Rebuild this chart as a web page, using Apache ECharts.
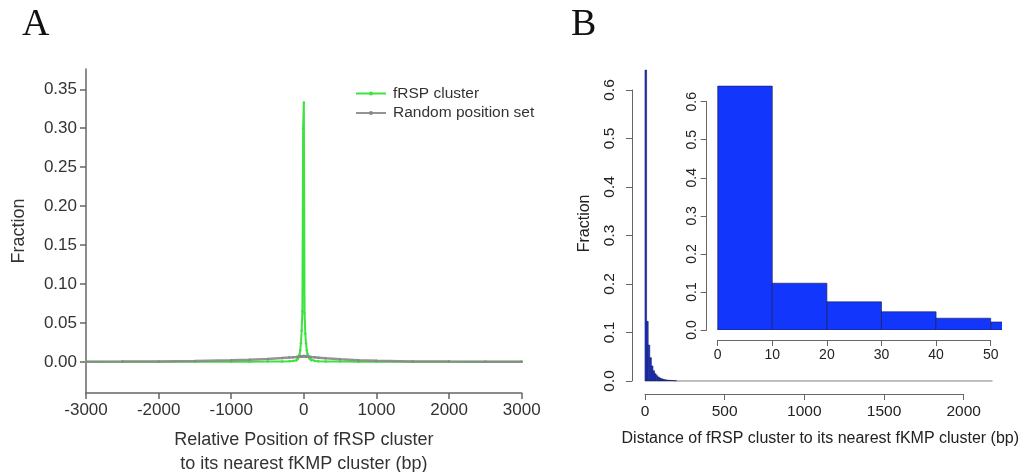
<!DOCTYPE html>
<html>
<head>
<meta charset="utf-8">
<title>fRSP / fKMP distance</title>
<script src="https://cdn.jsdelivr.net/npm/echarts@6/dist/echarts.min.js"></script>
<style>
  html, body { margin: 0; background: #fff; }
  #main { width: 1026px; height: 472px; }
</style>
</head>
<body>
<div id="main"></div>
<script>
// ---- panel A : relative position of fRSP cluster (bp) ----
var posA = [-3000, -2500, -2000, -1500, -1000, -750, -500, -300, -200, -150, -100, -80, -60, -50, -40, -30, -20, -10,
            0, 10, 20, 30, 40, 50, 60, 80, 100, 150, 200, 300, 500, 750, 1000, 1500, 2000, 2500, 3000];
var fRSP = [0.0001, 0.0001, 0.0001, 0.0001, 0.0002, 0.0002, 0.0003, 0.0005, 0.0008, 0.0012, 0.002, 0.004, 0.009, 0.015, 0.024, 0.04, 0.065, 0.30,
            0.333, 0.062, 0.036, 0.024, 0.015, 0.010, 0.007, 0.004, 0.002, 0.0012, 0.0008, 0.0005, 0.0003, 0.0002, 0.0002, 0.0001, 0.0001, 0.0001, 0.0001];
var randomSet = [0.0002, 0.0003, 0.0006, 0.001, 0.002, 0.0028, 0.0038, 0.0048, 0.0055, 0.0058, 0.0062, 0.0064, 0.0066, 0.0067, 0.0068, 0.0069, 0.007, 0.0072,
                 0.0075, 0.0072, 0.007, 0.0069, 0.0068, 0.0067, 0.0066, 0.0064, 0.0062, 0.0058, 0.0054, 0.0046, 0.0034, 0.0022, 0.0013, 0.0006, 0.0003, 0.0002, 0.0001];
var ticksA = [0, 0.05, 0.10, 0.15, 0.20, 0.25, 0.30, 0.35];

// ---- panel B : distance to nearest fKMP cluster, 10 bp bins ----
var binWidth = 10;
var distFrac = [0.641, 0.123, 0.074, 0.048, 0.031, 0.021, 0.015, 0.011, 0.008, 0.006,
                0.0045, 0.0035, 0.0027, 0.0021, 0.0017, 0.0014, 0.0011, 0.0009, 0.0007, 0.0006];
var tailEnd = 2180;   // tiny bins out to here
var tailFrac = 0.0002;
var insetBins = 6;    // inset shows 0-52 bp

var sans = 'Liberation Sans, Arial, sans-serif';
var lineA = { color: '#666', width: 1.5 };
var lineB = { color: '#666', width: 1 };
var plain = function (v) { return String(v); };

// histogram rects [start, end, value]
var mainBins = distFrac.map(function (v, i) { return [i * binWidth, (i + 1) * binWidth, v]; });
mainBins.push([distFrac.length * binWidth, tailEnd, tailFrac]);
var insetData = mainBins.slice(0, insetBins);

function histItem(params, api) {
  var p0 = api.coord([api.value(0), api.value(2)]);
  var p1 = api.coord([api.value(1), 0]);
  var isTail = api.value(1) - api.value(0) > binWidth;
  return {
    type: 'rect',
    shape: { x: p0[0], y: p0[1], width: p1[0] - p0[0], height: p1[1] - p0[1] },
    style: { fill: '#1236fb', stroke: isTail ? '#aaa' : '#1a1a40', lineWidth: isTail ? 1 : 0.6 }
  };
}

function hiddenAxis(extra) {
  var a = {
    type: 'value',
    axisLine: { show: false }, axisTick: { show: false },
    axisLabel: { show: false }, splitLine: { show: false }
  };
  for (var k in extra) a[k] = extra[k];
  return a;
}

var chart = echarts.init(document.getElementById('main'));
chart.setOption({
  animation: false,
  backgroundColor: '#fff',
  textStyle: { fontFamily: sans },
  graphic: [
    { type: 'text', left: 22, top: 6, style: { text: 'A', font: '38px "Liberation Serif", serif', fill: '#111' } },
    { type: 'text', left: 571, top: 6, style: { text: 'B', font: '38px "Liberation Serif", serif', fill: '#111' } }
  ],
  legend: {
    data: ['fRSP cluster', 'Random position set'],
    orient: 'vertical', left: 355, top: 85.5, padding: 0,
    itemWidth: 30, itemHeight: 5, itemGap: 3.5,
    textStyle: { fontSize: 15.5, color: '#333', fontFamily: sans, padding: [0, 0, 0, 2] }
  },
  grid: [
    { left: 86, top: 69, width: 435.7, height: 324, outerBoundsMode: 'none' },
    { left: 645, top: 90, width: 318.7, height: 291, outerBoundsMode: 'none' },
    { left: 645, top: 65.75, width: 350.6, height: 315.25, outerBoundsMode: 'none' },
    { left: 717.7, top: 101.7, width: 273, height: 228.3, outerBoundsMode: 'none' },
    { left: 717.7, top: 82.7, width: 283.9, height: 247.3, outerBoundsMode: 'none' }
  ],
  xAxis: [
    {
      gridIndex: 0, type: 'value', min: -3000, max: 3000, interval: 1000,
      axisLine: { onZero: false, lineStyle: lineA },
      axisTick: { length: 6, lineStyle: lineA },
      axisLabel: { fontSize: 17, color: '#333', margin: 9, formatter: plain },
      splitLine: { show: false },
      name: 'Relative Position of fRSP cluster\nto its nearest fKMP cluster (bp)',
      nameLocation: 'middle', nameGap: 35,
      nameTextStyle: { fontSize: 18, color: '#333', lineHeight: 24 }
    },
    {
      gridIndex: 1, type: 'value', min: 0, max: 2000, interval: 500, offset: 13,
      axisLine: { onZero: false, lineStyle: lineB },
      axisTick: { length: 6, lineStyle: lineB },
      axisLabel: { fontSize: 15.5, color: '#222', margin: 10, formatter: plain },
      splitLine: { show: false }
    },
    hiddenAxis({
      gridIndex: 2, min: 0, max: 2200,
      name: 'Distance of fRSP cluster to its nearest fKMP cluster (bp)',
      nameLocation: 'middle', nameGap: 50,
      nameTextStyle: { fontSize: 16, color: '#222' }
    }),
    {
      gridIndex: 3, type: 'value', min: 0, max: 50, interval: 10, offset: 10,
      axisLine: { onZero: false, lineStyle: lineB },
      axisTick: { length: 6, lineStyle: lineB },
      axisLabel: { fontSize: 14, color: '#222', margin: 8, formatter: plain },
      splitLine: { show: false }
    },
    hiddenAxis({ gridIndex: 4, min: 0, max: 52 })
  ],
  yAxis: [
    {
      gridIndex: 0, type: 'value', min: -0.04, max: 0.376,
      axisLine: { onZero: false, lineStyle: lineA },
      axisTick: { length: 6, lineStyle: lineA, customValues: ticksA },
      axisLabel: { fontSize: 17, color: '#333', margin: 9, customValues: ticksA,
                   formatter: function (v) { return v.toFixed(2); } },
      splitLine: { show: false },
      name: 'Fraction', nameLocation: 'middle', nameGap: 58, nameRotate: 90,
      nameTextStyle: { fontSize: 18, color: '#333' }
    },
    {
      gridIndex: 1, type: 'value', min: 0, max: 0.6, interval: 0.1, offset: 13,
      axisLine: { onZero: false, lineStyle: lineB },
      axisTick: { length: 6, lineStyle: lineB },
      axisLabel: { fontSize: 15.5, color: '#222', margin: 14, rotate: 90,
                   formatter: function (v) { return v.toFixed(1); } },
      splitLine: { show: false }
    },
    hiddenAxis({
      gridIndex: 2, min: 0, max: 0.65,
      name: 'Fraction', nameLocation: 'middle', nameGap: 52, nameRotate: 90,
      nameTextStyle: { fontSize: 16, color: '#222' }
    }),
    {
      gridIndex: 3, type: 'value', min: 0, max: 0.6, interval: 0.1, offset: 11,
      axisLine: { onZero: false, lineStyle: lineB },
      axisTick: { length: 6, lineStyle: lineB },
      axisLabel: { fontSize: 14, color: '#222', margin: 8, rotate: 90,
                   formatter: function (v) { return v.toFixed(1); } },
      splitLine: { show: false }
    },
    hiddenAxis({ gridIndex: 4, min: 0, max: 0.65 })
  ],
  series: [
    {
      name: 'fRSP cluster', type: 'line', xAxisIndex: 0, yAxisIndex: 0,
      data: posA.map(function (x, i) { return [x, fRSP[i]]; }),
      color: '#3de33d', symbol: 'circle', symbolSize: 2.5,
      lineStyle: { width: 2 }, z: 2
    },
    {
      name: 'Random position set', type: 'line', xAxisIndex: 0, yAxisIndex: 0,
      data: posA.map(function (x, i) { return [x, randomSet[i]]; }),
      color: '#888', symbol: 'circle', symbolSize: 2.5,
      lineStyle: { width: 2.5, opacity: 0.9 }, z: 3
    },
    {
      type: 'custom', xAxisIndex: 2, yAxisIndex: 2,
      renderItem: histItem, data: mainBins, encode: { x: [0, 1], y: 2 }
    },
    {
      type: 'custom', xAxisIndex: 4, yAxisIndex: 4, clip: true,
      renderItem: histItem, data: insetData, encode: { x: [0, 1], y: 2 }
    }
  ]
});
</script>
</body>
</html>
